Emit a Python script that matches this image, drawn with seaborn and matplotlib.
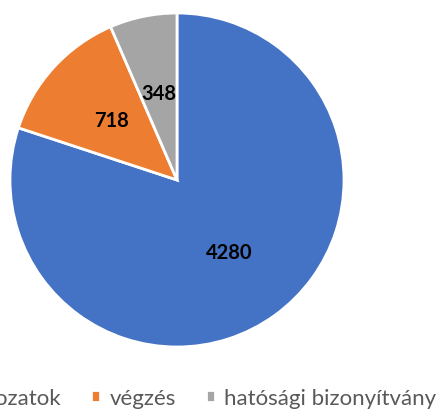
import matplotlib
matplotlib.use("Agg")
import matplotlib.pyplot as plt
import seaborn as sns

# --- Data ---
categories = ["határozatok", "végzés", "hatósági bizonyítvány"]
values = [4280, 718, 348]
colors = ["#4472C4", "#ED7D31", "#A5A5A5"]

sns.set_theme(style="white")
plt.rcParams["font.family"] = ["Lato", "DejaVu Sans"]

fig = plt.figure(figsize=(4.39, 4.10), dpi=100)
ax = fig.add_axes([0, 0, 1, 1])

wedges, texts, autotexts = ax.pie(
    values,
    colors=sns.color_palette(colors),
    startangle=90,
    counterclock=False,
    autopct=lambda p: f"{round(p * sum(values) / 100):d}",
    pctdistance=0.53,
    wedgeprops=dict(edgecolor="white", linewidth=2),
    textprops=dict(fontsize=14.5, fontweight="bold", color="black"),
)

# pie centre / radius placed to match the reference crop
r_px = 167
cx, cy = 177, 410 - 181
ax.set_xlim(-cx / r_px, (439 - cx) / r_px)
ax.set_ylim(-cy / r_px, (410 - cy) / r_px)
ax.set_aspect("auto")
ax.axis("off")

# legend runs off the left edge like the original crop
leg = fig.legend(
    wedges, categories,
    loc="center right", bbox_to_anchor=(436 / 439, 0.027), ncol=3,
    frameon=False, fontsize=16, handlelength=0.42, handleheight=0.42,
    handletextpad=0.4, columnspacing=1.35, borderpad=0, borderaxespad=0,
)
for t in leg.get_texts():
    t.set_color("#595959")

fig.savefig("out.png", dpi=100)
